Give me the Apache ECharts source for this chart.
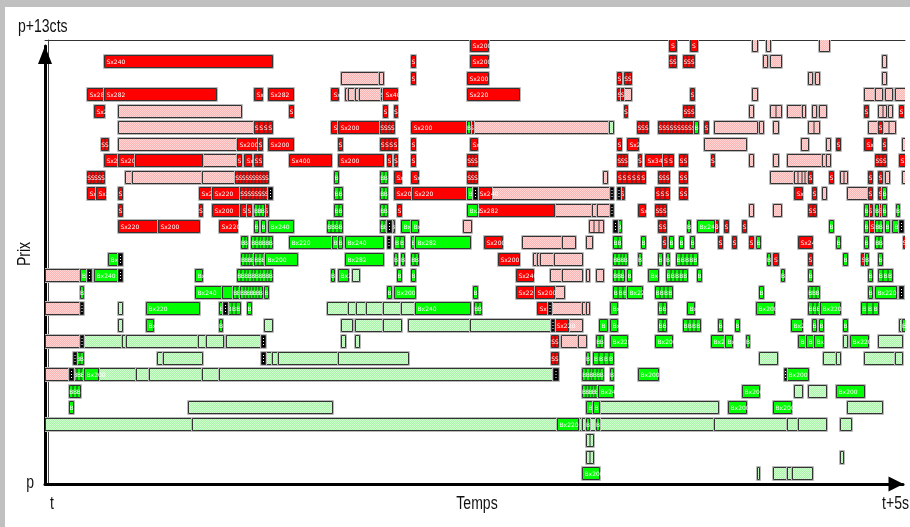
<!DOCTYPE html>
<html>
<head>
<meta charset="utf-8">
<script src="https://cdn.jsdelivr.net/npm/echarts@6/dist/echarts.min.js"></script>
<style>
  html, body { margin: 0; padding: 0; background: #c0c0c0; }
  #carnet { position: absolute; left: 5px; top: 7px; width: 905px; height: 520px; background: #fff; }
</style>
</head>
<body>
<div id="carnet"></div>
<script>
// niveaux de prix : 0..26 demi-cents au-dessus de p ; temps en pas, 860 pas = 5 s
var NB_PAS = 860;
var NIVEAU_MIN = -0.67, NIVEAU_MAX = 26.3;

// [niveau, debut, fin, nb ordres, libelle]
var ventes = [
  [26,425,443,1,'Sx200'],[26,624,631],[26,645,652],
  [25,59,227,1,'Sx240'],[25,366,370],[25,425,443,1,'Sx200'],[25,624,631,2],[25,638,649,3],
  [24,366,370],[24,422,443,1,'Sx200'],[24,572,576],[24,579,586,2],
  [23,42,59,1,'Sx282'],[23,59,171,1,'Sx282'],[23,209,217,1,'Sx'],[23,223,248,1,'Sx282'],[23,286,293,1,'Sx'],[23,336,338],[23,338,352,1,'Sx400'],[23,422,474,1,'Sx220'],[23,572,576],[23,576,578],[23,645,649],
  [22,49,59,1,'Sx20'],[22,244,248],[22,338,342],[22,349,352],[22,579,582],[22,638,649,3],[22,819,823],[22,854,858],
  [21,209,227,4],[21,286,293,1,'Sx'],[21,293,335,1,'Sx200'],[21,335,349,4],[21,366,422,1,'Sx200'],[21,425,428],[21,592,603,3],[21,613,650,10],[21,659,663],[21,833,837],
  [20,56,63,2],[20,192,213,1,'Sx200'],[20,213,217],[20,223,248,1,'Sx200'],[20,293,297],[20,335,352,4],[20,366,370],[20,425,432,1,'Sx'],[20,572,576],[20,582,593,1,'Sx2'],[20,791,795],[20,819,827,1,'Sx'],[20,837,841],
  [19,59,73,1,'Sx220'],[19,73,90,1,'Sx200'],[19,90,157],[19,192,196],[19,199,206,1,'Sx'],[19,209,217,2],[19,244,286,1,'Sx400'],[19,293,338,1,'Sx200'],[19,342,346],[19,349,352],[19,366,370],[19,422,432,3],[19,572,582,3],[19,593,596],[19,600,618,1,'Sx340'],[19,618,628,2],[19,634,642,2],[19,666,669],[19,830,841,3],[19,854,860],
  [18,42,59,5],[18,190,223,10],[18,349,356,1,'Sx2'],[18,366,373,1,'Sx'],[18,422,432,3],[18,572,600,6],[18,613,624,3],[18,634,642,2],[18,763,767],[18,784,788],[18,823,827],[18,833,837],
  [17,42,51,1,'Sx'],[17,51,60,1,'Sx2'],[17,73,77],[17,154,167,1,'Sx200'],[17,167,195,1,'Sx220'],[17,195,223,8],[17,349,367,1,'Sx200'],[17,367,422,1,'Sx220'],[17,432,446,1,'Sx240'],[17,575,579],[17,610,624,3],[17,634,642,2],[17,749,757,1,'Sx'],[17,767,771],[17,823,827],[17,833,837],
  [16,73,77],[16,154,157],[16,167,195,1,'Sx200'],[16,195,201,1,'Sx'],[16,202,206],[16,219,223],[16,352,356],[16,432,509,1,'Sx282'],[16,593,600,1,'Sx'],[16,610,621,3],[16,763,771,2],[16,823,827],[16,833,837],
  [15,73,113,1,'Sx220'],[15,113,154,1,'Sx200'],[15,174,192,1,'Sx220'],[15,613,621,2],[15,669,673],[15,679,683],[15,697,701],[15,823,830,1,'Sx'],
  [14,439,457,1,'Sx200'],[14,617,621],[14,673,677],[14,687,691],[14,704,708],[14,753,767,1,'Sx240'],[14,858,860],
  [13,453,474,1,'Sx200'],[13,728,733],[13,763,767],[13,816,820],
  [12,471,488,1,'Sx240'],
  [11,471,490,1,'Sx220'],[11,490,509,1,'Sx200'],
  [10,492,503,1,'Sx2'],
  [9,509,523,1,'Sx220'],
  [8,506,513,2],
  [7,506,513,2]
];

var ventesAnnulees = [
  [26,707,712],[26,721,725],[26,774,784],
  [25,718,722],[25,725,736],[25,837,841],
  [24,296,334],[24,334,338],[24,763,767],[24,770,774],[24,837,841],
  [23,300,303],[23,303,310],[23,310,314],[23,314,335],[23,578,586],[23,707,712],[23,819,830],[23,830,837],[23,840,847],[23,850,860],
  [22,73,196],[22,704,708],[22,725,736,2],[22,742,757],[22,757,760],[22,767,771],[22,774,781],[22,833,841,2],[22,843,847],
  [21,73,209],[21,428,564],[21,669,712],[21,714,718],[21,728,733],[21,763,774,2],[21,823,833],[21,837,850,2],
  [20,73,192],[20,659,701],[20,756,763],[20,781,785],[20,857,860],
  [19,157,192],[19,704,708],[19,728,733],[19,742,777],[19,777,781],[19,781,785],
  [18,80,87],[18,87,157],[18,157,190],[18,558,562],[18,725,749],[18,749,763,4],[18,795,802,2],[18,840,844],[18,857,860],
  [17,446,565],[17,777,781],[17,802,823],
  [16,509,547],[16,547,552],[16,552,565],[16,704,708],[16,728,736],
  [15,418,426],[15,544,558,3],
  [14,477,517],[14,517,530],[14,541,547],
  [13,488,492],[13,492,495],[13,495,509],[13,509,537],
  [12,0,35],[12,505,517],[12,517,537],[12,541,544],[12,551,558],
  [11,509,519],
  [10,0,35],[10,506,537],[10,537,541],[10,541,544],
  [9,523,537],
  [8,0,35],[8,178,181],[8,516,533],[8,533,541],
  [6,0,24]
];

var achats = [
  [21,422,425],[21,649,653],
  [18,289,293],[18,335,342,2],
  [17,289,297,2],[17,335,342,2],[17,422,428],[17,837,841],
  [16,209,219,3],[16,289,297,2],[16,335,342,2],[16,422,432,1,'Bx2'],[16,819,823],[16,830,833],[16,837,841],[16,851,854],
  [15,209,213],[15,216,220],[15,223,248,1,'Bx240'],[15,282,297,4],[15,335,342,2],[15,346,349],[15,356,366,1,'Bx'],[15,366,373,1,'Bx'],[15,572,576],[15,642,645],[15,652,669,1,'Bx240'],[15,784,788],[15,819,823],[15,830,837,2],[15,840,844],[15,847,854,1,'Bx'],
  [14,196,202,2],[14,206,227,6],[14,244,287,1,'Bx220'],[14,287,293],[14,293,297],[14,300,338,1,'Bx240'],[14,349,359,2],[14,366,370],[14,370,425,1,'Bx282'],[14,568,576,2],[14,596,600],[14,624,628],[14,634,638],[14,645,649],[14,711,715],[14,791,795],[14,819,823],[14,830,837,2],
  [13,63,73,1,'Bx2'],[13,196,209,4],[13,209,220,3],[13,220,252,1,'Bx200'],[13,300,338,1,'Bx282'],[13,349,352],[13,356,359],[13,366,373,2],[13,568,582,4],[13,593,596],[13,613,617],[13,621,624],[13,631,652,5],[13,722,725],[13,798,802],[13,820,823],[13,833,837],
  [12,35,42],[12,46,49],[12,49,73,1,'Bx240'],[12,150,157,1,'Bx'],[12,192,227,10],[12,286,289],[12,293,303,1,'Bx2'],[12,352,356],[12,366,370],[12,568,579,3],[12,582,586],[12,603,613,1,'Bx'],[12,621,642,5],[12,652,656],[12,736,739],[12,763,767],[12,823,827],[12,833,847,3],
  [11,35,38],[11,150,177,1,'Bx240'],[11,177,188],[11,188,195,2],[11,195,217,7],[11,219,223],[11,342,346],[11,349,370,1,'Bx200'],[11,428,432],[11,568,582,3],[11,582,597,1,'Bx22'],[11,610,627,4],[11,714,718],[11,763,774,3],[11,823,827],[11,830,851,1,'Bx220'],
  [10,101,154,1,'Bx220'],[10,174,178],[10,182,195,3],[10,202,206],[10,370,425,1,'Bx240'],[10,429,436,2],[10,565,572,1,'Bx'],[10,613,621,2],[10,642,649,1,'Bx'],[10,711,729,1,'Bx200'],[10,763,775,3],[10,775,795,1,'Bx220'],[10,816,833,3],
  [9,101,108,1,'Bx'],[9,174,177],[9,554,562],[9,565,572,1,'Bx'],[9,613,621,2],[9,638,655,4],[9,673,677],[9,690,694],[9,746,757,1,'Bx2'],[9,767,771],[9,774,778],[9,798,802],[9,857,860],
  [8,551,558,2],[8,565,582,1,'Bx220'],[8,610,627,1,'Bx200'],[8,666,680,1,'Bx200'],[8,680,687,1,'Bx'],[8,701,704],[8,753,761,1,'Bx'],[8,761,769,1,'Bx'],[8,769,778,1,'Bx'],[8,805,823,1,'Bx220'],
  [7,31,38,2],[7,541,544],[7,548,568,4],
  [6,28,39,3],[6,39,53,1,'Bx200'],[6,537,558,6],[6,565,568],[6,593,613,1,'Bx200'],[6,741,763,1,'Bx200'],
  [5,24,35,3],[5,537,553,5],[5,553,568,1,'Bx240'],[5,697,714,1,'Bx200'],[5,791,819,1,'Bx200'],
  [4,24,28],[4,541,548,1,'Bx'],[4,548,554],[4,683,701,1,'Bx200'],[4,728,746,1,'Bx200'],
  [3,512,533,1,'Bx220'],[3,541,544],[3,551,554],
  [0,537,554,1,'Bx200']
];

var achatsAnnules = [
  [21,564,568],
  [12,307,314],
  [11,851,854],[11,858,860],
  [10,73,77],[10,282,303],[10,303,311],[10,311,321],[10,321,338],[10,338,356],[10,356,370],
  [9,73,77],[9,219,227],[9,296,307],[9,310,338],[9,338,356],[9,363,425],[9,425,506],[9,854,857],
  [8,38,77],[8,77,81],[8,81,153],[8,153,161],[8,161,178],[8,181,216],[8,296,300],[8,310,314],[8,798,802],[8,833,857],
  [7,112,118],[7,118,157],[7,220,227],[7,227,233],[7,233,293],[7,293,363],[7,714,732],[7,778,791],[7,791,795],[7,819,850],[7,850,857],
  [6,53,91],[6,91,104],[6,104,157],[6,157,174],[6,174,508],
  [5,749,757],[5,763,781],
  [4,143,287],[4,554,673],[4,802,837],
  [3,0,147],[3,147,512],[3,533,537],[3,537,541],[3,544,551],[3,554,669],[3,669,742],[3,742,753],[3,753,781],[3,795,806],
  [2,541,548,2],
  [1,541,548,2],[1,795,798],
  [0,712,714],[0,728,742],[0,742,747],[0,747,767]
];

var transactions = [
  [17,223,227],[17,428,432],[17,565,568],[17,572,575],
  [16,565,568],
  [15,342,346],[15,568,572],[15,854,858],
  [14,342,345],
  [13,73,77],
  [12,42,46],[12,73,77],
  [11,854,858],
  [10,35,38],[10,178,182],[10,503,506],
  [9,506,509],
  [8,35,38],[8,216,220],
  [7,28,31],[7,216,220],
  [6,24,28],[6,508,513],[6,739,741]
];

var POLICE = "'Liberation Sans', Arial, sans-serif";

// trame 2x2 facon impression
function trame(c1, c2) {
  var cv = document.createElement('canvas');
  cv.width = 2; cv.height = 2;
  var ctx = cv.getContext('2d');
  ctx.fillStyle = c1; ctx.fillRect(0, 0, 2, 2);
  ctx.fillStyle = c2; ctx.fillRect(0, 0, 1, 1); ctx.fillRect(1, 1, 1, 1);
  return { image: cv, repeat: 'repeat' };
}

var styles = {
  vente:   { fill: '#ff0000', lettre: 'S' },
  venteX:  { fill: trame('#ffb4b4', '#ffd6d6') },
  achat:   { fill: '#00ff00', lettre: 'B' },
  achatX:  { fill: trame('#a8f5a8', '#d2ffd2') },
  trans:   { fill: '#000000', points: true }
};

function dessiner(source, st) {
  return function (params, api) {
    var o = source[params.dataIndex];
    var niv = api.value(0);
    var a = api.coord([api.value(1), niv]);
    var b = api.coord([api.value(2), niv]);
    var h = Math.round(api.size([0, 1])[1] * 0.73);
    var x = Math.round(a[0]) + 0.5;
    var w = Math.max(Math.round(b[0]) - Math.round(a[0]), 2);
    var y = Math.round(a[1] - h / 2) + 0.5;
    var n = o[3] || 1;
    var enfants = [
      { type: 'rect', shape: { x: x - 1, y: y - 1, width: w + 2, height: h + 2 },
        style: { fill: null, stroke: '#b8b8b8', lineWidth: 1 } },
      { type: 'rect', shape: { x: x, y: y, width: w, height: h },
        style: { fill: st.fill, stroke: '#333', lineWidth: 1 } }
    ];
    var pas = w / n;
    for (var i = 1; i < n; i++) {
      var xi = Math.round(x + pas * i);
      enfants.push({ type: 'line', shape: { x1: xi, y1: y, x2: xi, y2: y + h },
        style: { stroke: '#333', lineWidth: 1 } });
    }
    if (st.points) {
      for (var k = -1; k <= 1; k++) {
        enfants.push({ type: 'rect', shape: { x: x + w / 2 - 0.5, y: y + h / 2 + k * 3 - 0.5, width: 1, height: 1 },
          style: { fill: '#fff' } });
      }
    }
    if (o[4]) {
      enfants.push({ type: 'text', x: x + 2, y: y + h / 2 + 0.5,
        style: { text: o[4], fill: '#fff', font: '6px "DejaVu Sans"', verticalAlign: 'middle' } });
    } else if (st.lettre && pas <= 10) {
      for (var j = 0; j < n; j++) {
        enfants.push({ type: 'text', x: x + pas * j + pas / 2, y: y + h / 2 + 0.5,
          style: { text: st.lettre, fill: '#fff', font: '6px "DejaVu Sans"', align: 'center', verticalAlign: 'middle' } });
      }
    }
    return { type: 'group', children: enfants };
  };
}

function serie(nom, source, st) {
  return {
    name: nom,
    type: 'custom',
    xAxisIndex: 0,
    yAxisIndex: 0,
    clip: true,
    renderItem: dessiner(source, st),
    encode: { x: [1, 2], y: 0 },
    data: source.map(function (o) { return [o[0], o[1], o[2]]; })
  };
}

// textes des axes, police etroite (Arial Narrow simulee)
function texte(t, x, y, align, rot) {
  return {
    type: 'text', x: x, y: y, scaleX: 0.78, rotation: rot || 0,
    style: { text: t, fill: '#111', font: '18px ' + POLICE, align: align, verticalAlign: 'middle' }
  };
}

var chart = echarts.init(document.getElementById('carnet'));
var option = {
  animation: false,
  grid: [
    { left: 40, right: 5, top: 33, bottom: 43, outerBoundsMode: 'none', containLabel: false },
    { left: 40, right: 7, top: 39, bottom: 43, outerBoundsMode: 'none', containLabel: false }
  ],
  xAxis: [
    { type: 'value', gridIndex: 0, min: 0, max: NB_PAS, axisLine: { show: false },
      axisTick: { show: false }, axisLabel: { show: false }, splitLine: { show: false } },
    { type: 'value', gridIndex: 0, position: 'top', min: 0, max: NB_PAS,
      axisLine: { show: true, lineStyle: { color: '#333', width: 1 } },
      axisTick: { show: false }, axisLabel: { show: false }, splitLine: { show: false } },
    { type: 'value', gridIndex: 1, min: 0, max: 1, interval: 1,
      axisLine: { show: true, lineStyle: { color: '#000', width: 3 },
        symbol: ['none', 'triangle'], symbolSize: [15, 15], symbolOffset: [0, -7] },
      axisTick: { show: false }, splitLine: { show: false }, axisLabel: { show: false } }
  ],
  yAxis: [
    { type: 'value', gridIndex: 0, min: NIVEAU_MIN, max: NIVEAU_MAX, offset: -3,
      axisLine: { show: true, lineStyle: { color: '#444', width: 1 } },
      axisTick: { show: false }, axisLabel: { show: false }, splitLine: { show: false } },
    { type: 'value', gridIndex: 1, min: 0, max: 1, interval: 1, offset: 8,
      axisLine: { show: true, lineStyle: { color: '#000', width: 3 },
        symbol: ['none', 'triangle'], symbolSize: [14, 18], symbolOffset: [0, -9] },
      axisTick: { show: false }, splitLine: { show: false }, axisLabel: { show: false } }
  ],
  graphic: [
    texte('p+13cts', 13, 20, 'left'),
    texte('Prix', 20, 247, 'center', Math.PI / 2),
    texte('p', 29, 476, 'right'),
    texte('t', 45, 497, 'left'),
    texte('Temps', 472, 497, 'center'),
    texte('t+5s', 904, 497, 'right')
  ],
  series: [
    serie('Ventes annulées', ventesAnnulees, styles.venteX),
    serie('Achats annulés', achatsAnnules, styles.achatX),
    serie('Ventes', ventes, styles.vente),
    serie('Achats', achats, styles.achat),
    serie('Transactions', transactions, styles.trans)
  ]
};
chart.setOption(option);
</script>
</body>
</html>
